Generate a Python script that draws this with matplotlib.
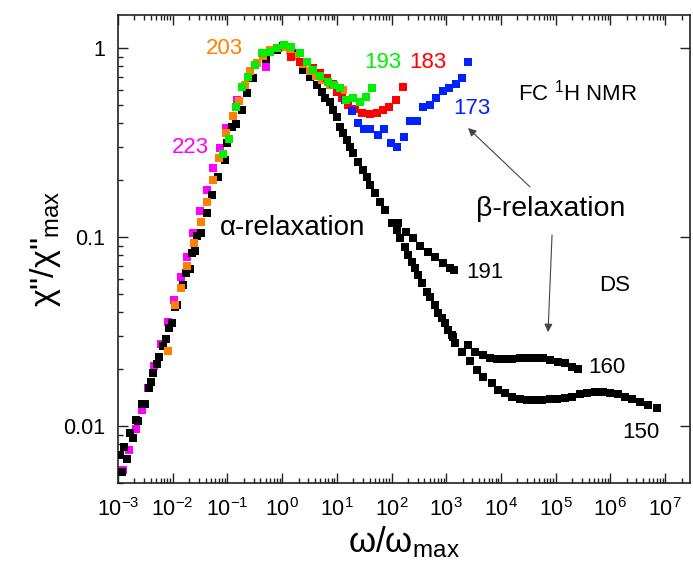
import matplotlib
matplotlib.use("Agg")
import matplotlib.pyplot as plt
import numpy as np
from matplotlib.ticker import LogLocator, NullFormatter, FixedLocator, FixedFormatter

plt.rcParams['font.family'] = ['Liberation Sans', 'DejaVu Sans']
plt.rcParams['mathtext.fontset'] = 'custom'
plt.rcParams['mathtext.rm'] = 'Liberation Sans'
plt.rcParams['mathtext.it'] = 'Liberation Sans:italic'
plt.rcParams['mathtext.default'] = 'regular'

# all values below are log10(omega/omega_max) and log10(chi''/chi''_max)

# dielectric data, alpha peak (black)
ds_alpha_lx = [-2.963, -2.927, -2.890, -2.835, -2.781, -2.726, -2.671, -2.634, -2.561, -2.506,
               -2.433, -2.397, -2.360, -2.287, -2.250, -2.177, -2.122, -2.068, -2.013, -1.958,
               -1.921, -1.848, -1.812, -1.757, -1.684, -1.647, -1.592, -1.556, -1.483, -1.373,
               -1.282, -1.172, -1.044, -1.007, -0.916, -0.843, -0.733, -0.642, -0.532, -0.294,
               -0.093, 0.016, 0.181, 0.364, 0.382, 0.510, 0.638, 0.729, 0.784, 0.876,
               0.931, 1.004, 1.059, 1.113, 1.186, 1.241, 1.296, 1.388, 1.479, 1.552,
               1.607, 1.698, 1.790, 1.881]
ds_alpha_ly = [-2.153, -2.243, -2.111, -2.175, -2.037, -2.063, -1.968, -1.974, -1.884, -1.884,
               -1.799, -1.767, -1.720, -1.672, -1.635, -1.577, -1.540, -1.481, -1.455, -1.370,
               -1.360, -1.270, -1.254, -1.190, -1.169, -1.085, -1.074, -0.995, -0.979, -0.873,
               -0.778, -0.683, -0.593, -0.503, -0.418, -0.402, -0.328, -0.238, -0.159, -0.058,
               -0.011, 0.011, -0.026, -0.074, -0.116, -0.153, -0.196, -0.233, -0.265, -0.286,
               -0.328, -0.365, -0.418, -0.450, -0.487, -0.524, -0.556, -0.603, -0.646, -0.683,
               -0.725, -0.767, -0.815, -0.857]

# high-frequency tails of the dielectric spectra
ds191_lx = [2.119, 2.265, 2.393, 2.521, 2.667, 2.795, 2.941, 3.069, 3.143]
ds191_ly = [-0.926, -0.974, -1.005, -1.048, -1.079, -1.106, -1.138, -1.164, -1.175]

ds_tail_lx = [2.009, 2.101, 2.155, 2.247, 2.302, 2.375, 2.430, 2.484, 2.558, 2.649,
              2.704, 2.795, 2.850, 2.923, 2.978, 3.033, 3.106]
ds_tail_ly = [-0.926, -0.963, -1.005, -1.053, -1.095, -1.132, -1.164, -1.201, -1.243, -1.291,
              -1.317, -1.360, -1.402, -1.429, -1.455, -1.492, -1.519]

ds160_lx = [3.124, 3.398, 3.527, 3.673, 3.801, 3.929, 4.075, 4.203, 4.349, 4.495,
            4.623, 4.770, 4.898, 5.044, 5.172, 5.300, 5.410]
ds160_ly = [-1.529, -1.571, -1.608, -1.624, -1.640, -1.646, -1.646, -1.646, -1.640, -1.640,
            -1.640, -1.640, -1.651, -1.661, -1.667, -1.688, -1.698]

ds150_lx = [3.161, 3.289, 3.435, 3.563, 3.673, 3.837, 3.947, 4.075, 4.203, 4.349,
            4.477, 4.623, 4.751, 4.898, 5.025, 5.172, 5.300, 5.446, 5.574, 5.720,
            5.867, 5.995, 6.141, 6.269, 6.397, 6.543, 6.689, 6.854]
ds150_ly = [-1.561, -1.608, -1.656, -1.704, -1.741, -1.772, -1.810, -1.825, -1.847, -1.857,
            -1.862, -1.862, -1.862, -1.857, -1.857, -1.852, -1.847, -1.831, -1.825, -1.820,
            -1.820, -1.825, -1.831, -1.847, -1.857, -1.873, -1.889, -1.905]

# field-cycling 1H NMR master curves
nmr223_lx = [-2.909, -2.799, -2.671, -2.561, -2.452, -2.342, -2.214, -2.086, -1.976, -1.848,
             -1.739, -1.629, -1.501, -1.373, -1.263, -1.135, -1.026, -0.824, -0.294]
nmr223_ly = [-2.233, -2.127, -2.016, -1.915, -1.799, -1.683, -1.566, -1.450, -1.333, -1.212,
             -1.106, -0.979, -0.862, -0.751, -0.635, -0.529, -0.423, -0.275, -0.101]

nmr203_lx = [-2.086, -1.958, -1.848, -1.739, -1.611, -1.483, -1.373, -1.263, -1.154, -1.026,
             -0.898, -0.788, -0.678, -0.587, -0.459, -0.349, -0.221, -0.093, 0.035, 0.144,
             0.254, 0.382, 0.510, 0.620, 0.729, 0.876, 1.004, 1.113]
nmr203_ly = [-1.603, -1.360, -1.270, -1.153, -1.032, -0.921, -0.815, -0.698, -0.582, -0.450,
             -0.360, -0.280, -0.196, -0.122, -0.079, -0.042, -0.011, 0.000, 0.005, -0.011,
             -0.042, -0.085, -0.122, -0.148, -0.169, -0.196, -0.212, -0.222]

nmr183_lx = [-0.075, 0.163, 0.327, 0.565, 0.693, 0.821, 0.931, 1.004, 1.095, 1.205,
             1.333, 1.461, 1.607, 1.735, 1.845, 1.954, 2.082, 2.210]
nmr183_ly = [0.000, -0.048, -0.074, -0.106, -0.132, -0.159, -0.190, -0.233, -0.265, -0.302,
             -0.323, -0.344, -0.349, -0.344, -0.328, -0.312, -0.275, -0.206]

nmr173_lx = [1.150, 1.278, 1.388, 1.497, 1.607, 1.753, 1.863, 1.991, 2.101, 2.229,
             2.338, 2.466, 2.576, 2.704, 2.814, 2.941, 3.051, 3.179, 3.289, 3.398]
nmr173_ly = [-0.275, -0.333, -0.397, -0.429, -0.429, -0.460, -0.429, -0.503, -0.524, -0.471,
             -0.386, -0.386, -0.312, -0.302, -0.265, -0.228, -0.212, -0.190, -0.159, -0.074]

nmr193_lx = [-1.080, -0.971, -0.843, -0.733, -0.623, -0.495, -0.367, -0.221, -0.093, 0.035,
             0.163, 0.327, 0.455, 0.565, 0.693, 0.839, 0.949, 1.059, 1.168, 1.296,
             1.424, 1.534, 1.643]
nmr193_ly = [-0.561, -0.481, -0.312, -0.206, -0.153, -0.090, -0.026, -0.021, 0.000, 0.016,
             0.005, -0.026, -0.074, -0.116, -0.148, -0.180, -0.196, -0.212, -0.275, -0.265,
             -0.286, -0.259, -0.212]

BLACK = '#000000'
MAGENTA = '#ff00ff'
ORANGE = '#ff8000'
RED = '#ff0000'
BLUE = '#0022ff'
GREEN = '#00ee00'

fig = plt.figure(figsize=(6.93, 5.67), dpi=100)
ax = fig.add_axes([0.1703, 0.148, 0.8254, 0.8254])


def squares(lx, ly, color, z):
    ax.plot(np.power(10.0, lx), np.power(10.0, ly), 's', color=color,
            markersize=5.2, markeredgewidth=0, linestyle='none', zorder=z)


squares(nmr223_lx, nmr223_ly, MAGENTA, 2)
squares(ds_alpha_lx, ds_alpha_ly, BLACK, 3)
squares(ds_tail_lx, ds_tail_ly, BLACK, 3)
squares(ds191_lx, ds191_ly, BLACK, 3)
squares(ds160_lx, ds160_ly, BLACK, 3)
squares(ds150_lx, ds150_ly, BLACK, 3)
squares(nmr203_lx, nmr203_ly, ORANGE, 4)
squares(nmr183_lx, nmr183_ly, RED, 4)
squares(nmr173_lx, nmr173_ly, BLUE, 4)
squares(nmr193_lx, nmr193_ly, GREEN, 5)

ax.set_xscale('log')
ax.set_yscale('log')
ax.set_xlim(1e-3, 2.86e7)
ax.set_ylim(0.00499, 1.495)

ax.xaxis.set_major_locator(LogLocator(base=10, numticks=20))
ax.xaxis.set_minor_locator(LogLocator(base=10, subs=np.arange(2, 10), numticks=20))
ax.xaxis.set_minor_formatter(NullFormatter())
ax.yaxis.set_major_locator(FixedLocator([0.01, 0.1, 1]))
ax.yaxis.set_major_formatter(FixedFormatter(['0.01', '0.1', '1']))
ax.yaxis.set_minor_locator(LogLocator(base=10, subs=np.arange(2, 10), numticks=20))
ax.yaxis.set_minor_formatter(NullFormatter())

ax.tick_params(which='both', direction='in', top=True, right=True, width=1.0, color='#222222')
ax.tick_params(which='major', length=7, labelsize=15.5, pad=11)
ax.tick_params(which='minor', length=3.5)
ax.tick_params(axis='y', which='minor', right=False)
ax.tick_params(axis='y', which='major', pad=9)
for sp in ax.spines.values():
    sp.set_linewidth(1.2)
    sp.set_color('#222222')

ax.set_xlabel(r'ω/ω$_{\rm max}$', fontsize=25, labelpad=2)
ax.set_ylabel(r'χ"/χ"$_{\rm max}$', fontsize=24.5, labelpad=0)

# curve labels (temperatures in K)
lab = dict(ha='center', va='center', fontsize=16)
ax.text(0.090, 1.0, '203', color=ORANGE, **lab)
ax.text(0.0207, 0.296, '223', color=MAGENTA, **lab)
ax.text(70, 0.843, '193', color=GREEN, **lab)
ax.text(465, 0.843, '183', color=RED, **lab)
ax.text(2950, 0.48, '173', color=BLUE, **lab)
ax.text(5000, 0.0653, '191', color='black', **lab)
ax.text(8.7e5, 0.0203, '160', color='black', **lab)
ax.text(3.64e6, 0.00929, '150', color='black', **lab)
ax.text(1.2e6, 0.0557, 'DS', color='black', **lab)
ax.text(2.57e5, 0.585, r'FC $^{1}$H NMR', color='black', **lab)
ax.text(1.52, 0.1116, 'α-relaxation', ha='center', va='center', fontsize=20)
ax.text(8.0e4, 0.141, 'β-relaxation', ha='center', va='center', fontsize=20.5)

arrow = dict(arrowstyle='-|>', color='#444444', lw=0.8, mutation_scale=12, shrinkA=0, shrinkB=0)
ax.annotate('', xy=(10 ** 3.399, 10 ** -0.423), xytext=(10 ** 4.532, 10 ** -0.735), arrowprops=arrow)
ax.annotate('', xy=(10 ** 4.861, 10 ** -1.503), xytext=(10 ** 4.934, 10 ** -0.989), arrowprops=arrow)

fig.savefig('out.png', dpi=100)
